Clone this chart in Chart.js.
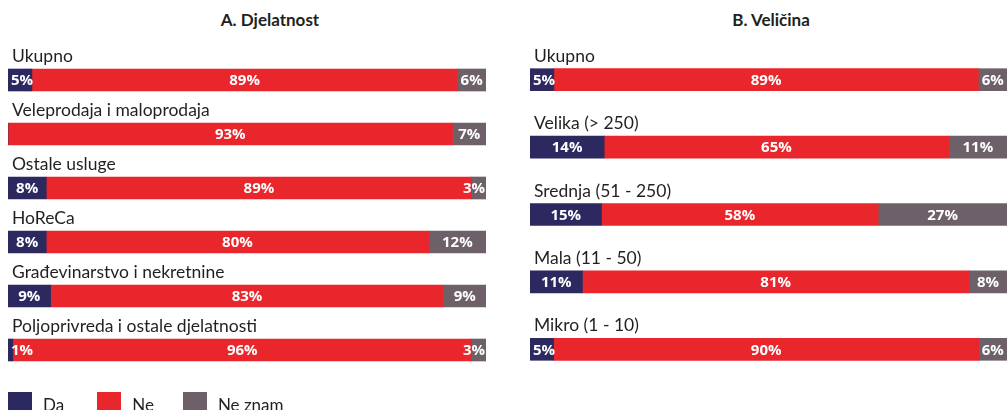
<!DOCTYPE html>
<html>
<head>
<meta charset="utf-8">
<script src="https://cdn.jsdelivr.net/npm/chart.js@4/dist/chart.umd.min.js"></script>
<style>
  html, body { margin:0; padding:0; background:#fff; width:1008px; height:410px; overflow:hidden; font-family: Lato, "Open Sans", sans-serif; }
  .panel { position:absolute; top:0; height:410px; }
  .title { position:absolute; top:9px; font-weight:bold; font-size:17px; color:#231f20; transform:translateX(-50%); white-space:nowrap; }
  .legend { position:absolute; left:8px; top:392px; display:flex; align-items:flex-start; font-size:17px; color:#231f20; }
  .legend .item { display:flex; align-items:flex-start; }
  .legend .sw { width:24px; height:24px; display:inline-block; margin-right:11px; }
  .legend .lbl { line-height:1; padding-top:4px; }
</style>
</head>
<body>
<div class="title" style="left:270px">A. Djelatnost</div>
<div class="title" style="left:771px">B. Veličina</div>
<div class="panel" style="left:0;width:500px"><canvas id="cA"></canvas></div>
<div class="panel" style="left:510px;width:498px"><canvas id="cB"></canvas></div>
<div class="legend" id="legend"></div>
<script>
// ---- Data ----
const seriesNames = ['Da', 'Ne', 'Ne znam'];
const seriesColors = ['#2b2960', '#e8262b', '#6e6068'];

const categoriesA = ['Ukupno', 'Veleprodaja i maloprodaja', 'Ostale usluge', 'HoReCa', 'Građevinarstvo i nekretnine', 'Poljoprivreda i ostale djelatnosti'];
const daA     = [5, 0, 8, 8, 9, 1];
const neA     = [89, 93, 89, 80, 83, 96];
const neZnamA = [6, 7, 3, 12, 9, 3];

const categoriesB = ['Ukupno', 'Velika (> 250)', 'Srednja (51 - 250)', 'Mala (11 - 50)', 'Mikro (1 - 10)'];
const daB     = [5, 14, 15, 11, 5];
const neB     = [89, 65, 58, 81, 90];
const neZnamB = [6, 11, 27, 8, 6];

// ---- Helpers ----
function buildDatasets(series) {
  const totals = series[0].map((_, i) => series.reduce((s, arr) => s + arr[i], 0));
  return series.map((arr, k) => ({
    label: seriesNames[k],
    data: arr.map((v, i) => v / totals[i] * 100),
    raw: arr,
    backgroundColor: seriesColors[k],
    borderWidth: 0,
    barThickness: 22,
    categoryPercentage: 1,
    barPercentage: 1
  }));
}

const labelPlugin = {
  id: 'barTexts',
  afterDatasetsDraw(chart) {
    const ctx = chart.ctx;
    const area = chart.chartArea;
    ctx.save();
    const meta0 = chart.getDatasetMeta(0);
    ctx.font = '17.5px Lato, "Open Sans", sans-serif';
    ctx.fillStyle = '#231f20';
    ctx.textAlign = 'left';
    ctx.textBaseline = 'alphabetic';
    meta0.data.forEach((el, i) => {
      const top = el.y - el.height / 2;
      ctx.fillText(chart.data.labels[i], area.left + 4, top - 7);
    });
    ctx.font = 'bold 15px "Open Sans", Lato, sans-serif';
    ctx.fillStyle = '#ffffff';
    ctx.textAlign = 'center';
    ctx.textBaseline = 'middle';
    chart.data.datasets.forEach((ds, di) => {
      const meta = chart.getDatasetMeta(di);
      meta.data.forEach((el, i) => {
        const v = ds.raw[i];
        if (!v) return;
        const txt = v + '%';
        const w = ctx.measureText(txt).width;
        let cx = (el.x + el.base) / 2;
        const minX = area.left + 3 + w / 2;
        const maxX = area.right - 1 - w / 2;
        if (cx < minX) cx = minX;
        if (cx > maxX) cx = maxX;
        ctx.fillText(txt, cx, el.y + 1);
      });
    });
    ctx.restore();
  }
};

function makeChart(id, labels, series, padding) {
  return new Chart(document.getElementById(id), {
    type: 'bar',
    data: { labels, datasets: buildDatasets(series) },
    options: {
      indexAxis: 'y',
      responsive: true,
      maintainAspectRatio: false,
      animation: false,
      layout: { padding },
      plugins: { legend: { display: false }, tooltip: { enabled: false }, title: { display: false } },
      scales: {
        x: { stacked: true, min: 0, max: 100, display: false },
        y: { stacked: true, display: false }
      }
    },
    plugins: [labelPlugin]
  });
}

makeChart('cA', categoriesA, [daA, neA, neZnamA], { left: 8, right: 14, top: 53, bottom: 33 });
makeChart('cB', categoriesB, [daB, neB, neZnamB], { left: 20, right: 1, top: 46, bottom: 27 });

// ---- Legend ----
const legendEl = document.getElementById('legend');
const gaps = [33, 29, 0];
seriesNames.forEach((n, k) => {
  const it = document.createElement('div');
  it.className = 'item';
  it.style.marginRight = gaps[k] + 'px';
  it.innerHTML = '<span class="sw" style="background:' + seriesColors[k] + '"></span><span class="lbl">' + n + '</span>';
  legendEl.appendChild(it);
});
</script>
</body>
</html>
